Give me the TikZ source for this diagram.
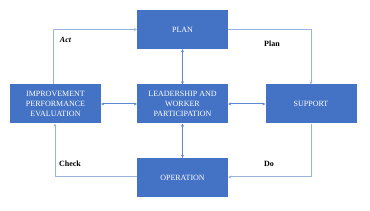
\documentclass[tikz,border=0pt]{standalone}
\usepackage{fontspec}
\setmainfont{Liberation Serif}
\usetikzlibrary{arrows.meta}
\definecolor{boxblue}{HTML}{4472C4}
\definecolor{outerline}{HTML}{9AB2DE}
\definecolor{innerline}{HTML}{5F88D2}
\tikzset{
  blk/.style={fill=boxblue, draw=none, minimum width=91pt, minimum height=39pt, inner sep=1pt,
    text=white, align=center, font=\fontsize{8}{9.7}\selectfont},
  outerconn/.style={draw=outerline, line width=1pt, -{Stealth[length=3pt,width=3pt]}},
  innerconn/.style={draw=innerline, line width=1pt, {Stealth[length=3pt,width=3pt]}-{Stealth[length=3pt,width=3pt]}},
  lbl/.style={font=\fontsize{8}{9}\selectfont\bfseries, text=black, inner sep=0pt}
}
\begin{document}
\begin{tikzpicture}[x=1pt,y=1pt]
\useasboundingbox (0,0) rectangle (370,211);
\node[blk] (plan) at (182.5,181.5) {PLAN};
\node[blk] (imp) at (55.5,107) {IMPROVEMENT\\PERFORMANCE\\EVALUATION};
\node[blk] (lead) at (182.5,107) {LEADERSHIP AND\\WORKER\\PARTICIPATION};
\node[blk] (sup) at (311,107) {SUPPORT};
\node[blk] (op) at (182.5,33.5) {OPERATION};
\coordinate (actc) at (53.5,181.5);
\coordinate (planc) at (311,181.5);
\coordinate (doc) at (311,34);
\coordinate (checkc) at (55,34);
\draw[outerconn] (imp.north -| actc) -- (actc) -- (plan.west);
\draw[outerconn] (plan.east) -- (planc) -- (sup.north -| planc);
\draw[outerconn] (sup.south -| doc) -- (doc) -- (doc -| op.east);
\draw[outerconn] (checkc -| op.west) -- (checkc) -- (imp.south -| checkc);
\draw[innerconn] (imp.east) -- (lead.west);
\draw[innerconn] (lead.east) -- (sup.west);
\draw[innerconn] (plan.south) -- (lead.north);
\draw[innerconn] (lead.south) -- (op.north);
\node[lbl] (actl) at (65.5,171) {\itshape Act};
\node[lbl] (planl) at (272,167) {Plan};
\node[lbl] (checkl) at (70,47) {Check};
\node[lbl] (dol) at (269,47) {Do};
\end{tikzpicture}
\end{document}
